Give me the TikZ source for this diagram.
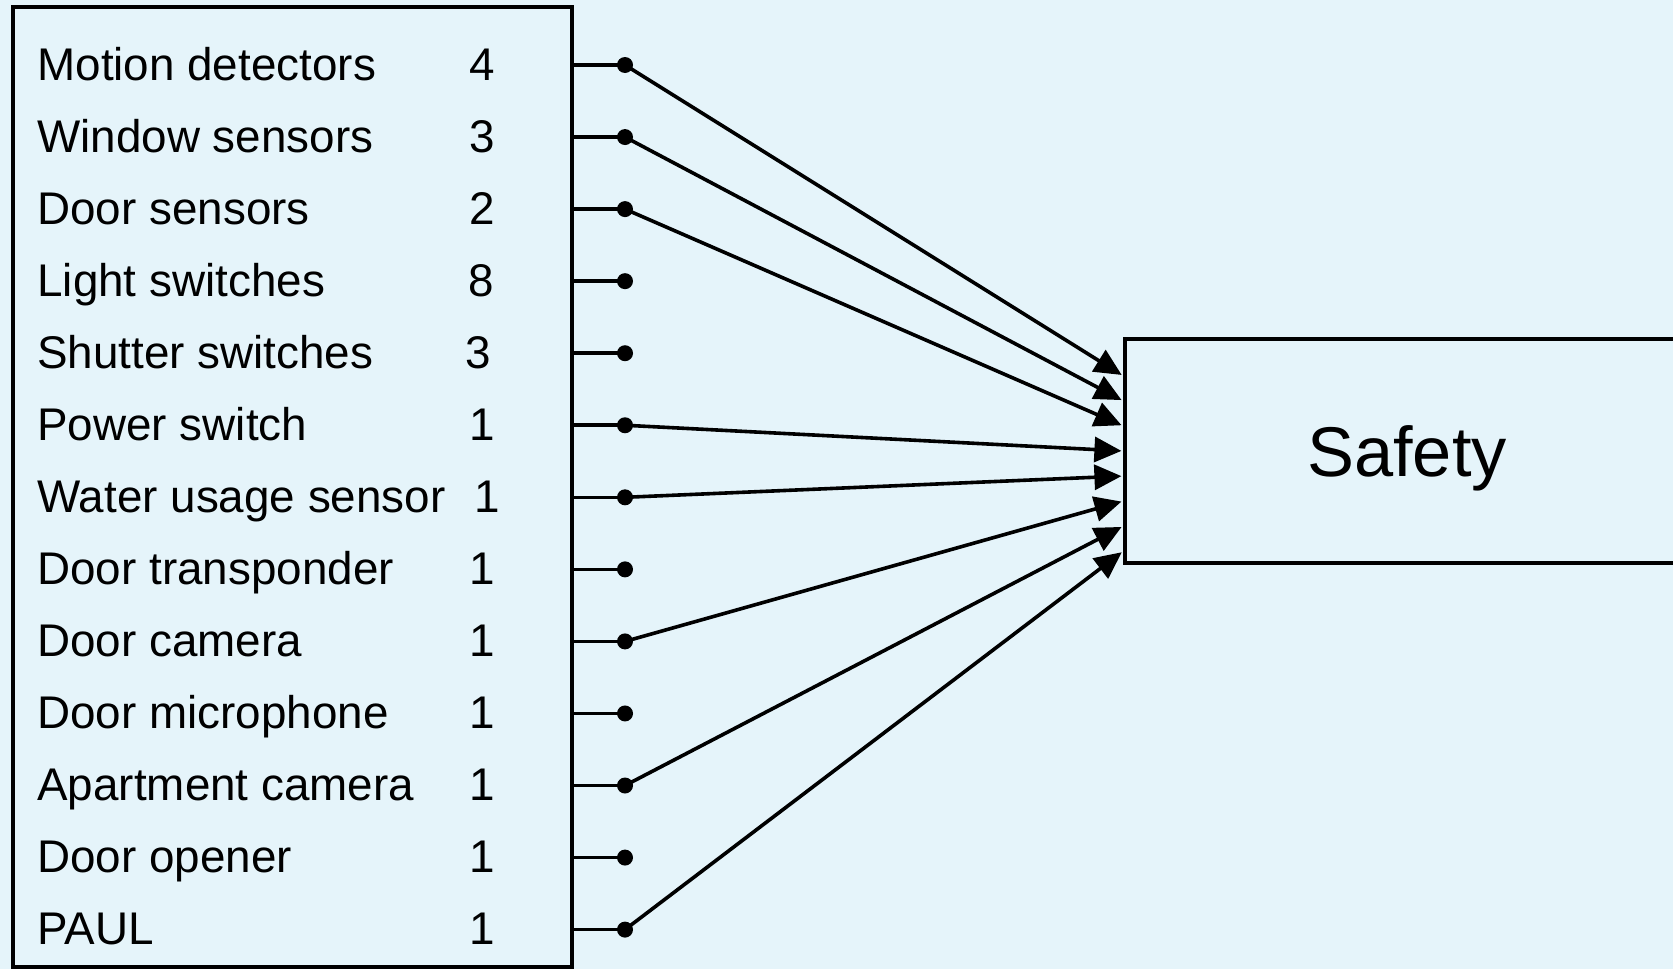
\documentclass[tikz,border=0pt]{standalone}
\usepackage{fontspec}
\setmainfont{Liberation Sans}
\usetikzlibrary{arrows.meta,positioning,calc}
\definecolor{Pale}{HTML}{E5F4FA}

\tikzset{
  rowlabel/.style={anchor=base west,font=\fontsize{22.9}{27}\selectfont,inner sep=0pt},
  rowcount/.style={anchor=base,font=\fontsize{22.9}{27}\selectfont,inner sep=0pt},
  pin/.style={circle,fill=black,inner sep=0pt,minimum size=8pt},
  wire/.style={line width=1.8pt},
  feed/.style={wire,-{Triangle[length=13.5pt,width=12.5pt]},shorten >=0.9pt},
}

\begin{document}
\begin{tikzpicture}[x=0.5pt,y=-0.5pt]
  \fill[Pale] (0,0) rectangle (1673,969);
  \useasboundingbox (0,0) rectangle (1673,969);
  % device list on the left, function block on the right
  \node[draw,line width=2.2pt,minimum width=279.5pt,minimum height=480pt,inner sep=0pt] (sensors) at (292.5,487) {};
  \node[draw,line width=1.8pt,minimum width=282pt,minimum height=112pt,inner sep=0pt,
        text height=25pt,text depth=0pt,font=\fontsize{35.2}{40}\selectfont] (safety) at (1407,451) {Safety};
  \foreach \name/\num/\cx [count=\i] in {Motion detectors/4/482,Window sensors/3/482,Door sensors/2/482,
      Light switches/8/481,Shutter switches/3/478,Power switch/1/482,Water usage sensor/1/487,
      Door transponder/1/482,Door camera/1/482,Door microphone/1/482,Apartment camera/1/482,
      Door opener/1/482,PAUL/1/482} {
    \node[rowlabel] (l\i) at (37,{80+72.05*(\i-1)}) {\name};
    \node[rowcount] (c\i) at (\cx,{80+72.05*(\i-1)}) {\num};
    \node[pin] (p\i) at (625,{65+72.05*(\i-1)}) {};
    \draw[wire] (sensors.east |- p\i) -- (p\i.center);
  }
  % only these inputs feed the safety block
  \foreach \src [count=\k] in {1,2,3,6,7,9,11,13}
    \draw[feed] (p\src.center) -- ($(safety.north west)!{0.06+0.11*\k}!(safety.south west)$);
\end{tikzpicture}
\end{document}
